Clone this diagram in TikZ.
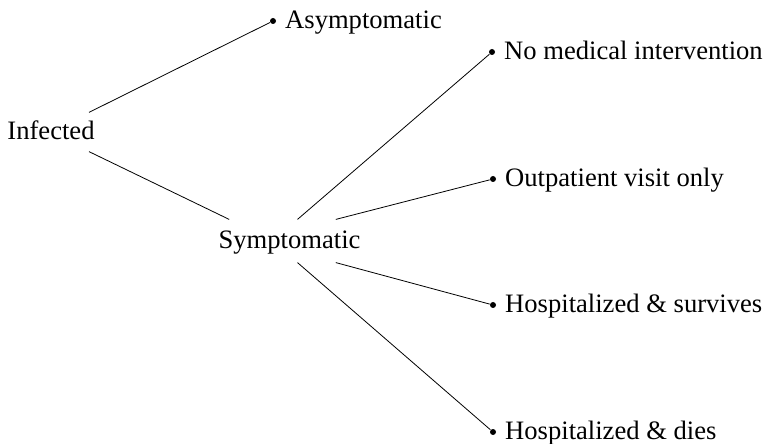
\documentclass[tikz,border=0pt]{standalone}
\usepackage{fontspec}
\setmainfont{Liberation Serif}
\usetikzlibrary{positioning}

\begin{document}
\begin{tikzpicture}[x=0.5pt,y=-0.5pt,
  txt/.style={font=\fontsize{13.3}{16}\selectfont,inner xsep=0pt,text height=9.2pt,text depth=2pt},
  dot/.style={circle,fill,inner sep=0pt,minimum size=3pt}]
 \useasboundingbox (0,0) rectangle (767,444);

 \node[txt,inner ysep=4pt] (inf) at (51,132) {Infected};
 \node[txt,inner ysep=5pt] (sym) at (289.5,241) {Symptomatic};

 \node[dot] (asym) at (273,21) {};
 \node[dot] (nomed) at (492,52) {};
 \node[dot] (outp) at (493,179) {};
 \node[dot] (hsurv) at (493,305) {};
 \node[dot] (hdies) at (493,432) {};

 \node[txt,right=4.2pt of asym] (asym-t) {Asymptomatic};
 \node[txt,right=4.2pt of nomed] (nomed-t) {No medical intervention};
 \node[txt,right=4.2pt of outp] (outp-t) {Outpatient visit only};
 \node[txt,right=4.2pt of hsurv] (hsurv-t) {Hospitalized \& survives};
 \node[txt,right=4.2pt of hdies] (hdies-t) {Hospitalized \& dies};

\path
    ([xshift=-3pt]inf.north east) edge (asym)
    ([xshift=-3pt]inf.south east) edge ([xshift=5.5pt]sym.north west);
\path
    ([xshift=4pt]sym.north) edge (nomed)
    ([xshift=-12.5pt]sym.north east) edge (outp)
    ([xshift=-12.5pt]sym.south east) edge (hsurv)
    ([xshift=4pt]sym.south) edge (hdies);
\end{tikzpicture}
\end{document}
